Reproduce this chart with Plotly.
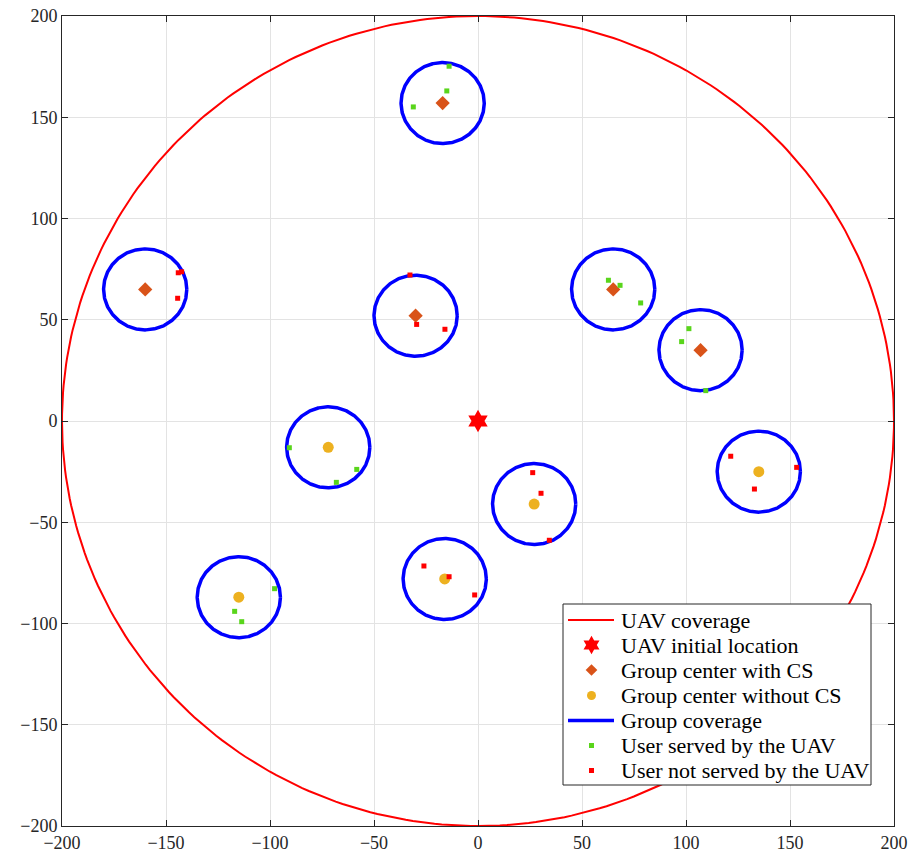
import numpy as np
import plotly.graph_objects as go

# UAV service area
uav_radius = 200
uav_start_x = [0]
uav_start_y = [0]

# Group centres that host a CS
cs_center_x = [-160, -17, -30, 65, 107]
cs_center_y = [65, 157, 52, 65, 35]

# Group centres without a CS
nocs_center_x = [-72, 27, 135, -115, -16]
nocs_center_y = [-13, -41, -25, -87, -78]

group_radius = 20

# Users served by the UAV
served_x = [-13.9, -15.0, -31.1, 62.7, 68.3, 78.2, 101.4, 97.9, 109.5,
            -90.7, -58.3, -68.1, -97.8, -117.0, -113.6]
served_y = [175.2, 163.0, 155.1, 69.5, 67.0, 58.3, 45.6, 39.2, 15.0,
            -13.2, -23.9, -30.3, -82.8, -94.0, -99.1]

# Users not served by the UAV
unserved_x = [-144.1, -142.5, -144.4, -32.7, -29.5, -15.9,
              26.3, 30.3, 34.3, 121.5, 153.2, 132.9, -26.0, -13.9, -1.6]
unserved_y = [73.2, 73.7, 60.6, 72.1, 47.7, 45.3,
              -25.5, -35.7, -58.9, -17.4, -22.9, -33.6, -71.6, -76.9, -85.9]

legend_labels = ["UAV coverage", "UAV initial location", "Group center with CS",
                 "Group center without CS", "Group coverage",
                 "User served by the UAV", "User not served by the UAV"]

FONT = "Liberation Serif"
RED, BLUE = "#ff0000", "#0000ff"
ORANGE, YELLOW, GREEN = "#D95319", "#EDB120", "#59D51B"

W, H = 909, 852
ML, MR, MT, MB = 62, 15, 16, 26
PW, PH = W - ML - MR, H - MT - MB


def px(xpix):
    return (xpix - ML) / PW


def py(ypix):
    return (H - MB - ypix) / PH


theta = np.linspace(0, 2 * np.pi, 361)

styles = {
    "uav_cov": dict(mode="lines", line=dict(color=RED, width=2)),
    "uav": dict(mode="markers", marker=dict(symbol="hexagram", size=17, color=RED)),
    "cs": dict(mode="markers", marker=dict(symbol="diamond", size=11, color=ORANGE)),
    "nocs": dict(mode="markers", marker=dict(symbol="circle", size=11, color=YELLOW)),
    "grp": dict(mode="lines", line=dict(color=BLUE, width=3.5)),
    "srv": dict(mode="markers", marker=dict(symbol="square", size=5, color=GREEN)),
    "nsrv": dict(mode="markers", marker=dict(symbol="square", size=5, color=RED)),
}
# Slightly smaller symbols inside the legend
legend_sizes = {"uav": 14, "cs": 9, "nocs": 9, "srv": 5, "nsrv": 5}

fig = go.Figure()

fig.add_trace(go.Scatter(
    x=uav_start_x[0] + uav_radius * np.cos(theta),
    y=uav_start_y[0] + uav_radius * np.sin(theta),
    name=legend_labels[0], **styles["uav_cov"]))

fig.add_trace(go.Scatter(x=uav_start_x, y=uav_start_y,
                         name=legend_labels[1], **styles["uav"]))
fig.add_trace(go.Scatter(x=cs_center_x, y=cs_center_y,
                         name=legend_labels[2], **styles["cs"]))
fig.add_trace(go.Scatter(x=nocs_center_x, y=nocs_center_y,
                         name=legend_labels[3], **styles["nocs"]))

for cx, cy in zip(cs_center_x + nocs_center_x, cs_center_y + nocs_center_y):
    fig.add_trace(go.Scatter(
        x=cx + group_radius * np.cos(theta),
        y=cy + group_radius * np.sin(theta),
        name=legend_labels[4], **styles["grp"]))

fig.add_trace(go.Scatter(x=served_x, y=served_y,
                         name=legend_labels[5], **styles["srv"]))
fig.add_trace(go.Scatter(x=unserved_x, y=unserved_y,
                         name=legend_labels[6], **styles["nsrv"]))

# Legend box drawn on an overlay axis spanning the plot area in paper units
box_l, box_r, box_t, box_b = px(563), px(871), py(604), py(785)
fig.add_trace(go.Scatter(
    x=[box_l, box_r, box_r, box_l, box_l], y=[box_b, box_b, box_t, box_t, box_b],
    mode="lines", fill="toself", fillcolor="white",
    line=dict(color="#262626", width=1),
    xaxis="x2", yaxis="y2", hoverinfo="skip"))

row_y = [620, 645, 670, 695.5, 720.5, 745.5, 770.5]
keys = ["uav_cov", "uav", "cs", "nocs", "grp", "srv", "nsrv"]
sample_x0, sample_x1, sample_xm, text_x = px(568), px(614), px(591.5), px(619)
for key, ry, label in zip(keys, row_y, legend_labels):
    yy = py(ry)
    st = styles[key]
    if st["mode"] == "lines":
        fig.add_trace(go.Scatter(x=[sample_x0, sample_x1], y=[yy, yy],
                                 xaxis="x2", yaxis="y2", hoverinfo="skip", **st))
    else:
        mk = dict(st["marker"], size=legend_sizes[key])
        fig.add_trace(go.Scatter(x=[sample_xm], y=[yy], xaxis="x2", yaxis="y2",
                                 mode="markers", marker=mk,
                                 hoverinfo="skip", cliponaxis=False))
    fig.add_annotation(x=text_x, y=yy, xref="paper", yref="paper",
                       text=label, showarrow=False, xanchor="left", yanchor="middle",
                       font=dict(family=FONT, size=22, color="black"))

axis_common = dict(
    range=[-200, 200], dtick=50, tick0=-200, automargin=False,
    showgrid=True, gridcolor="#e3e3e3", gridwidth=1,
    zeroline=False, showline=True, linecolor="#262626", linewidth=1,
    mirror="ticks", ticks="inside", ticklen=6, tickcolor="#262626",
    tickfont=dict(family=FONT, size=18, color="#262626"), tickformat="d",
)
overlay_common = dict(range=[0, 1], visible=False, fixedrange=True)

fig.update_layout(
    width=W, height=H,
    margin=dict(l=ML, r=MR, t=MT, b=MB),
    paper_bgcolor="white", plot_bgcolor="white",
    xaxis=axis_common, yaxis=axis_common,
    xaxis2=dict(overlaying="x", **overlay_common),
    yaxis2=dict(overlaying="y", **overlay_common),
    showlegend=False,
)

fig.write_html("out.html")
